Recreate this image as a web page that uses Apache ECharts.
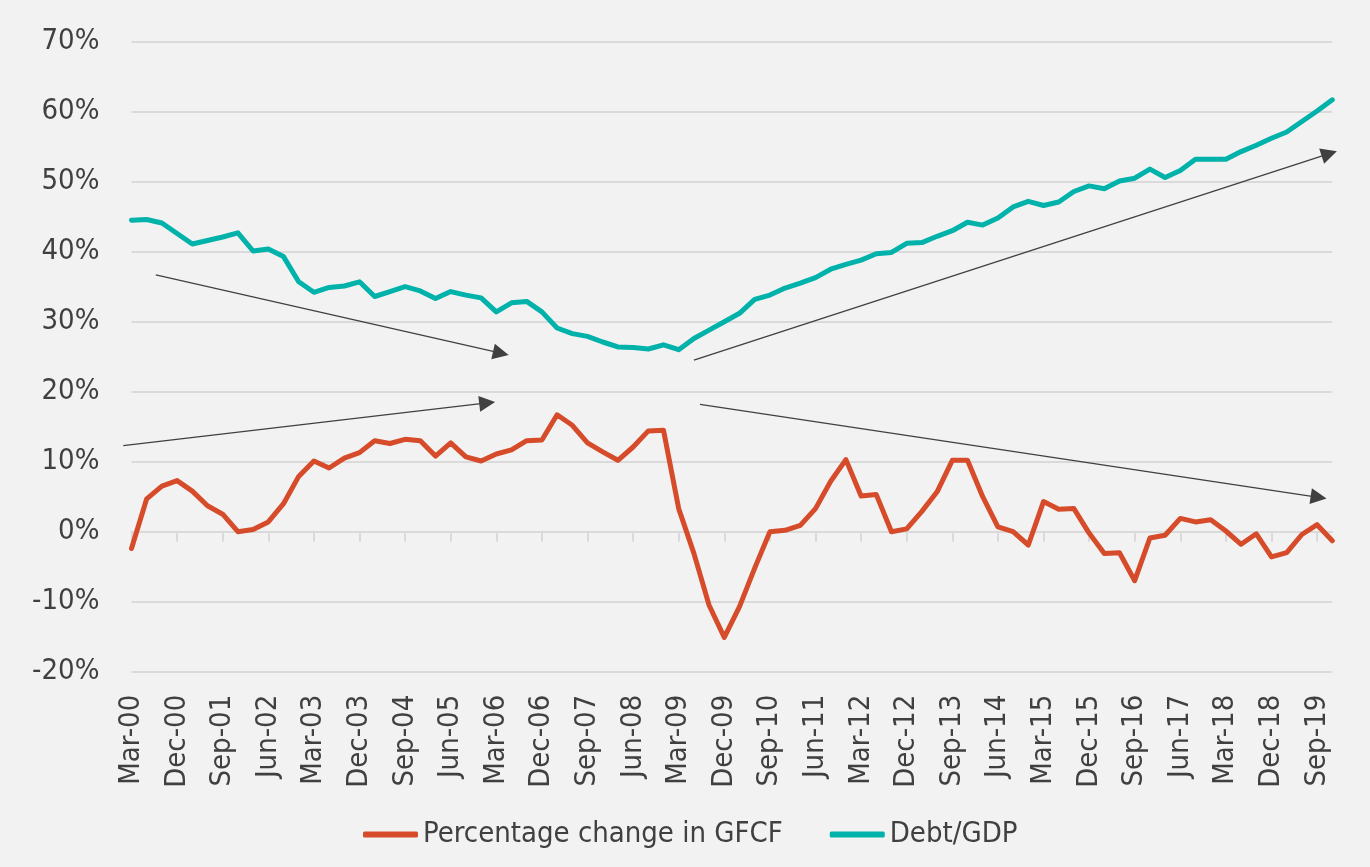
<!DOCTYPE html>
<html>
<head>
<meta charset="utf-8">
<script src="https://cdn.jsdelivr.net/npm/echarts@6/dist/echarts.min.js"></script>
<style>
html,body{margin:0;padding:0;background:#f2f2f2;}
#chart{width:1370px;height:867px;}
</style>
</head>
<body>
<div id="chart"></div>
<script>
const categories = [
"Mar-00","Jun-00","Sep-00","Dec-00","Mar-01","Jun-01","Sep-01","Dec-01",
"Mar-02","Jun-02","Sep-02","Dec-02","Mar-03","Jun-03","Sep-03","Dec-03",
"Mar-04","Jun-04","Sep-04","Dec-04","Mar-05","Jun-05","Sep-05","Dec-05",
"Mar-06","Jun-06","Sep-06","Dec-06","Mar-07","Jun-07","Sep-07","Dec-07",
"Mar-08","Jun-08","Sep-08","Dec-08","Mar-09","Jun-09","Sep-09","Dec-09",
"Mar-10","Jun-10","Sep-10","Dec-10","Mar-11","Jun-11","Sep-11","Dec-11",
"Mar-12","Jun-12","Sep-12","Dec-12","Mar-13","Jun-13","Sep-13","Dec-13",
"Mar-14","Jun-14","Sep-14","Dec-14","Mar-15","Jun-15","Sep-15","Dec-15",
"Mar-16","Jun-16","Sep-16","Dec-16","Mar-17","Jun-17","Sep-17","Dec-17",
"Mar-18","Jun-18","Sep-18","Dec-18","Mar-19","Jun-19","Sep-19","Dec-19"
];

const gfcf = [
-2.4, 4.7, 6.5, 7.3, 5.8, 3.7, 2.5, 0.0,
0.3, 1.4, 4.0, 7.9, 10.1, 9.1, 10.5, 11.3,
13.0, 12.6, 13.2, 13.0, 10.8, 12.7, 10.7, 10.1,
11.1, 11.7, 13.0, 13.1, 16.7, 15.2, 12.7, 11.4,
10.2, 12.1, 14.4, 14.5, 3.3, -3.1, -10.5, -15.1,
-10.7, -5.2, 0.0, 0.2, 0.9, 3.3, 7.2, 10.3,
5.1, 5.3, 0.0, 0.4, 2.9, 5.7, 10.2, 10.2,
5.0, 0.7, 0.0, -1.9, 4.3, 3.2, 3.3, -0.2,
-3.1, -3.0, -7.0, -0.9, -0.5, 1.9, 1.4, 1.7,
0.1, -1.8, -0.3, -3.6, -3.0, -0.4, 1.0, -1.3
];

const debtGdp = [
44.5, 44.6, 44.1, 42.6, 41.1, 41.6, 42.1, 42.7,
40.1, 40.4, 39.3, 35.7, 34.2, 34.9, 35.1, 35.7,
33.6, 34.3, 35.0, 34.4, 33.3, 34.3, 33.8, 33.4,
31.4, 32.7, 32.9, 31.4, 29.1, 28.3, 27.9, 27.1,
26.4, 26.3, 26.1, 26.7, 26.0, 27.6, 28.8, 30.0,
31.2, 33.2, 33.8, 34.8, 35.5, 36.3, 37.5, 38.2,
38.8, 39.7, 39.9, 41.2, 41.3, 42.2, 43.0, 44.2,
43.8, 44.8, 46.4, 47.2, 46.6, 47.1, 48.6, 49.4,
49.0, 50.1, 50.5, 51.8, 50.6, 51.6, 53.2, 53.2,
53.2, 54.3, 55.2, 56.2, 57.1, 58.6, 60.1, 61.7
];

const yTicks = {min: -20, max: 70, interval: 10};

// trend arrows in data units: [categoryIndex, percent]
const trendArrows = [
  [[1.6, 36.7], [24.3, 25.5]],
  [[-0.54, 12.3], [23.4, 18.4]],
  [[37.0, 24.5], [78.8, 54.0]],
  [[37.4, 18.2], [78.1, 4.9]]
];

const FONT = "DejaVu Sans Condensed";
const TXT = "#404040";
const GRIDC = "#dadada";
const RED = "#D64B2A";
const TEAL = "#00B2A9";

const chart = echarts.init(document.getElementById('chart'), null, {renderer: 'canvas'});

const step = 15.2;
const left0 = 131.5, right0 = 37.7, top0 = 41.7, bottom0 = 195.3;

chart.setOption({
  backgroundColor: '#f2f2f2',
  animation: false,
  textStyle: {fontFamily: FONT},
  grid: [
    {left: left0, right: right0, top: top0, bottom: bottom0, containLabel: false},
    {left: left0 - 2 * step, right: right0 - 2 * step, top: top0, bottom: bottom0, containLabel: false}
  ],
  legend: {
    left: 358, top: 815,
    itemWidth: 55, itemHeight: 6, itemGap: 47,
    icon: 'roundRect',
    textStyle: {fontFamily: FONT, fontSize: 29, color: TXT},
    data: ['Percentage change in GFCF', 'Debt/GDP']
  },
  xAxis: [
    {
      type: 'category', gridIndex: 0, data: categories, boundaryGap: false,
      axisLine: {show: true, onZero: true, lineStyle: {color: GRIDC, width: 2}},
      axisTick: {show: true, interval: 2, length: 10, lineStyle: {color: GRIDC, width: 2}},
      axisLabel: {show: false},
      splitLine: {show: false}
    },
    {
      type: 'category', gridIndex: 0, data: categories, boundaryGap: false, position: 'bottom',
      axisLine: {show: false, onZero: false},
      axisTick: {show: false},
      axisLabel: {show: true, interval: 2, rotate: 90, margin: 23,
        fontFamily: FONT, fontSize: 29, color: TXT},
      splitLine: {show: false}
    },
    {
      type: 'value', gridIndex: 1, min: -2, max: 81, show: false
    }
  ],
  yAxis: [
    {
      type: 'value', gridIndex: 0, min: yTicks.min, max: yTicks.max, interval: yTicks.interval,
      axisLine: {show: false}, axisTick: {show: false},
      axisLabel: {formatter: '{value}%', margin: 32, fontFamily: FONT, fontSize: 29, color: TXT},
      splitLine: {show: true, lineStyle: {color: GRIDC, width: 2}}
    },
    {
      type: 'value', gridIndex: 1, min: yTicks.min, max: yTicks.max, show: false
    }
  ],
  series: [
    {
      name: 'Percentage change in GFCF', type: 'line', xAxisIndex: 0, yAxisIndex: 0,
      data: gfcf, showSymbol: false, symbol: 'none',
      lineStyle: {color: RED, width: 5, join: 'round', cap: 'round'},
      itemStyle: {color: RED}, z: 3
    },
    {
      name: 'Debt/GDP', type: 'line', xAxisIndex: 0, yAxisIndex: 0,
      data: debtGdp, showSymbol: false, symbol: 'none',
      lineStyle: {color: TEAL, width: 5, join: 'round', cap: 'round'},
      itemStyle: {color: TEAL}, z: 3
    },
    {
      name: 'arrows', type: 'lines', coordinateSystem: 'cartesian2d',
      xAxisIndex: 2, yAxisIndex: 1, clip: false,
      symbol: ['none', 'triangle'], symbolSize: [13, 16],
      lineStyle: {color: '#404040', width: 1.3, opacity: 1},
      itemStyle: {color: '#404040'},
      data: trendArrows.map(a => ({coords: a})),
      z: 4, silent: true
    }
  ]
});
</script>
</body>
</html>
